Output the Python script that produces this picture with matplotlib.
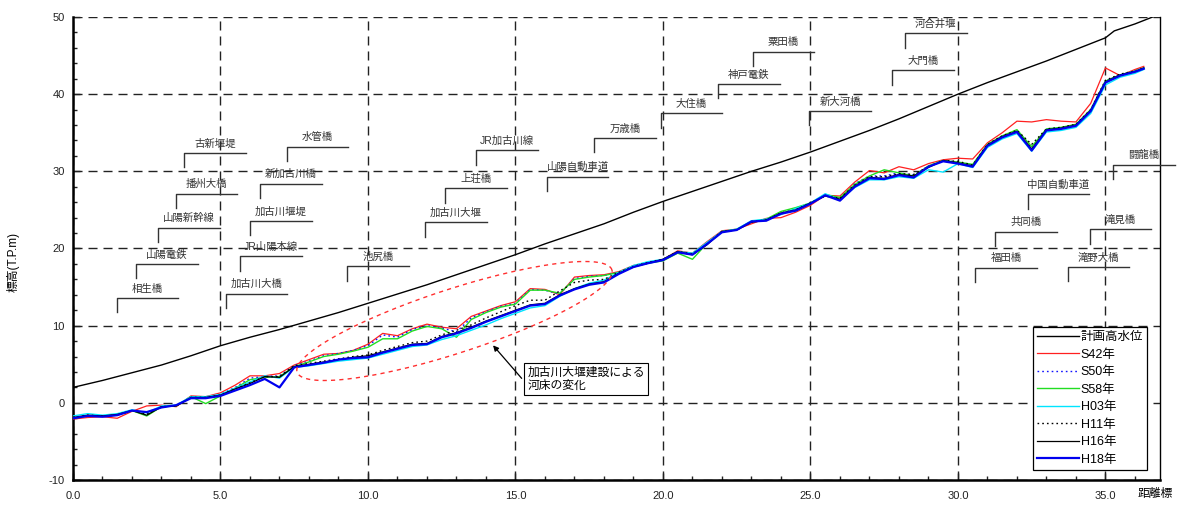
import numpy as np
import matplotlib
matplotlib.use('Agg')
import matplotlib.pyplot as plt
from matplotlib.lines import Line2D

plt.rcParams['font.family'] = ['Liberation Sans', 'Noto Sans CJK JP', 'DejaVu Sans']

# ---------------- data ----------------
KM = [0.0, 0.5, 1.0, 1.5, 2.0, 2.5, 3.0, 3.5, 4.0, 4.5,
      5.0, 5.5, 6.0, 6.5, 7.0, 7.5, 8.0, 8.5, 9.0, 9.5,
      10.0, 10.5, 11.0, 11.5, 12.0, 12.5, 13.0, 13.5, 14.0, 14.5,
      15.0, 15.5, 16.0, 16.5, 17.0, 17.5, 18.0, 18.5, 19.0, 19.5,
      20.0, 20.5, 21.0, 21.5, 22.0, 22.5, 23.0, 23.5, 24.0, 24.5,
      25.0, 25.5, 26.0, 26.5, 27.0, 27.5, 28.0, 28.5, 29.0, 29.5,
      30.0, 30.5, 31.0, 31.5, 32.0, 32.5, 33.0, 33.5, 34.0, 34.5,
      35.0, 35.5, 36.0, 36.3]

S42 = [-2.1, -1.9, -1.8, -2.0, -1.1, -0.4, -0.3, -0.5, 0.9, 0.8,
       1.3, 2.3, 3.5, 3.5, 3.8, 4.9, 5.6, 6.3, 6.4, 6.8,
       7.6, 9.0, 8.7, 9.6, 10.2, 9.8, 9.6, 11.2, 11.9, 12.6,
       13.1, 14.8, 14.7, 14.0, 16.3, 16.5, 16.6, 17.0, 17.8, 18.2,
       18.6, 19.7, 19.4, 20.9, 22.3, 22.5, 23.2, 23.9, 24.0, 24.7,
       25.6, 26.9, 26.8, 28.6, 30.1, 29.8, 30.6, 30.2, 31.0, 31.5,
       31.7, 31.6, 33.7, 35.0, 36.5, 36.4, 36.7, 36.5, 36.4, 38.8,
       43.4, 42.4, 43.2, 43.6]
S50 = [-2.0, -1.7, -1.7, -1.6, -1.0, -1.4, -0.5, -0.4, 0.8, 0.6,
       1.1, 2.0, 3.2, 3.4, 3.5, 4.8, 5.4, 6.1, 6.4, 6.8,
       7.4, 8.8, 8.5, 9.5, 10.0, 9.7, 9.2, 11.0, 11.8, 12.5,
       12.9, 14.7, 14.6, 14.1, 16.1, 16.4, 16.5, 16.9, 17.7, 18.1,
       18.5, 19.5, 19.2, 20.7, 22.2, 22.4, 23.4, 23.7, 24.6, 25.1,
       25.9, 26.9, 26.5, 28.4, 29.4, 29.4, 29.8, 29.5, 30.7, 31.4,
       31.2, 30.8, 33.4, 34.5, 35.3, 33.0, 35.4, 35.6, 36.0, 37.9,
       41.7, 42.5, 43.0, 43.4]
S58 = [-2.0, -1.7, -1.7, -1.6, -1.0, -1.7, -0.5, -0.4, 0.8, -0.1,
       0.9, 1.9, 3.0, 3.3, 3.4, 4.7, 5.3, 6.0, 6.3, 6.7,
       7.2, 8.3, 8.3, 9.3, 9.9, 9.6, 8.5, 10.8, 11.7, 12.4,
       12.8, 14.6, 14.6, 14.2, 16.0, 16.3, 16.5, 16.9, 17.7, 18.1,
       18.4, 19.4, 18.6, 20.7, 22.2, 22.5, 23.5, 23.8, 24.8, 25.3,
       25.9, 27.0, 26.6, 28.3, 29.4, 30.2, 29.8, 29.4, 30.7, 31.4,
       31.2, 30.9, 33.5, 34.6, 35.4, 33.2, 35.5, 35.7, 36.1, 38.0,
       41.7, 42.5, 43.0, 43.4]
H03 = [-1.7, -1.4, -1.6, -1.4, -0.9, -1.3, -0.4, -0.3, 0.8, 0.8,
       1.1, 1.9, 2.7, 3.5, 3.2, 4.6, 4.8, 5.1, 5.4, 5.6,
       5.8, 6.3, 6.8, 7.3, 7.5, 8.2, 8.7, 9.4, 10.1, 10.9,
       11.6, 12.3, 12.6, 13.8, 14.8, 15.5, 15.9, 16.9, 17.8, 18.3,
       18.6, 19.6, 19.4, 20.8, 22.2, 22.5, 23.6, 23.8, 24.4, 25.2,
       25.9, 27.1, 26.3, 27.9, 28.9, 28.9, 29.3, 29.1, 30.2, 29.9,
       31.0, 30.5, 33.1, 34.2, 34.9, 32.6, 35.1, 35.3, 35.7, 37.5,
       41.2, 42.2, 42.7, 43.2]
H11 = [-1.9, -1.6, -1.7, -1.6, -1.0, -1.5, -0.5, -0.4, 0.7, 0.7,
       1.0, 1.8, 2.6, 3.4, 3.4, 4.8, 5.1, 5.4, 5.7, 6.0,
       6.2, 6.8, 7.3, 7.8, 8.0, 8.8, 9.4, 10.1, 11.0, 11.8,
       12.6, 13.3, 13.3, 14.5, 15.6, 15.9, 16.0, 16.9, 17.7, 18.2,
       18.6, 19.6, 19.3, 20.6, 22.2, 22.4, 23.5, 23.7, 24.6, 25.0,
       25.9, 26.8, 26.5, 28.2, 29.3, 29.3, 29.7, 29.6, 30.6, 31.4,
       31.3, 30.8, 33.5, 34.6, 35.3, 33.5, 35.5, 35.7, 36.1, 38.0,
       41.8, 42.6, 43.0, 43.4]
H16 = [-1.9, -1.6, -1.7, -1.5, -1.0, -1.6, -0.5, -0.4, 0.7, 0.7,
       1.0, 1.8, 2.5, 3.4, 3.3, 4.7, 5.0, 5.3, 5.6, 5.9,
       6.1, 6.6, 7.1, 7.6, 7.7, 8.6, 9.1, 9.8, 10.6, 11.3,
       12.0, 12.7, 12.9, 14.0, 14.8, 15.4, 15.7, 16.8, 17.6, 18.1,
       18.6, 19.6, 19.2, 20.5, 22.2, 22.4, 23.4, 23.7, 24.6, 25.0,
       25.9, 26.8, 26.4, 28.1, 29.2, 29.1, 29.6, 29.4, 30.5, 31.4,
       31.1, 30.7, 33.4, 34.5, 35.2, 32.9, 35.4, 35.6, 36.0, 37.9,
       41.6, 42.5, 42.9, 43.4]
H18 = [-2.0, -1.7, -1.8, -1.6, -1.0, -1.2, -0.6, -0.3, 0.6, 0.6,
       0.9, 1.6, 2.3, 3.1, 2.0, 4.6, 4.9, 5.2, 5.6, 5.8,
       5.9, 6.5, 7.0, 7.5, 7.6, 8.5, 9.0, 9.7, 10.5, 11.2,
       11.9, 12.6, 12.8, 13.9, 14.7, 15.3, 15.6, 16.7, 17.6, 18.1,
       18.5, 19.5, 19.2, 20.6, 22.1, 22.4, 23.5, 23.6, 24.5, 24.9,
       25.8, 26.9, 26.2, 28.0, 29.1, 29.0, 29.5, 29.2, 30.6, 31.3,
       31.0, 30.6, 33.3, 34.4, 35.1, 32.7, 35.3, 35.5, 35.9, 37.8,
       41.5, 42.4, 42.9, 43.3]

PLAN_KM = [0, 1, 2, 3, 4, 5, 6, 7, 8, 9, 10, 11, 12, 13, 14, 15, 16, 17, 18, 19,
           20, 21, 22, 23, 24, 25, 26, 27, 28, 29, 30, 31, 32, 33, 34, 35, 35.3, 36, 37]
PLAN_H = [2.0, 2.9, 3.9, 4.9, 6.1, 7.4, 8.5, 9.5, 10.6, 11.7, 12.9, 14.1, 15.3, 16.6,
          17.9, 19.2, 20.6, 21.9, 23.2, 24.7, 26.1, 27.4, 28.7, 30.0, 31.2, 32.5, 33.9,
          35.3, 36.8, 38.4, 40.0, 41.5, 42.9, 44.3, 45.8, 47.3, 48.2, 49.1, 50.6]

SERIES_NAMES = ['S42年', 'S50年', 'S58年', 'H03年', 'H11年', 'H16年', 'H18年']
SERIES_VALUES = [S42, S50, S58, H03, H11, H16, H18]
PLAN_NAME = '計画高水位'

X_TICKS = [0, 5, 10, 15, 20, 25, 30, 35]
X_TICK_LABELS = ['0.0', '5.0', '10.0', '15.0', '20.0', '25.0', '30.0', '35.0']
Y_TICKS = [-10, 0, 10, 20, 30, 40, 50]

# bridge / structure labels: (name, km of structure, elevation of bracket line)
BRIDGES = [
    ('相生橋', 1.48, 13.6), ('山陽電鉄', 2.13, 18.0), ('山陽新幹線', 2.89, 22.7),
    ('播州大橋', 3.48, 27.1), ('古新堰堤', 3.76, 32.4), ('加古川大橋', 5.18, 14.15),
    ('JR山陽本線', 5.66, 19.0), ('加古川堰堤', 6.0, 23.55), ('新加古川橋', 6.34, 28.4),
    ('水管橋', 7.24, 33.2), ('池尻橋', 9.30, 17.7), ('加古川大堰', 11.93, 23.4),
    ('上荘橋', 12.62, 27.8), ('JR加古川線', 13.66, 32.7), ('山陽自動車道', 16.06, 29.3),
    ('万歳橋', 17.66, 34.3), ('大住橋', 19.92, 37.5), ('神戸電鉄', 21.87, 41.35),
    ('粟田橋', 23.04, 45.5), ('新大河橋', 24.96, 37.8), ('大門橋', 27.77, 43.1),
    ('河合井堰', 28.20, 47.9), ('福田橋', 30.58, 17.5), ('共同橋', 31.25, 22.2),
    ('中国自動車道', 32.36, 27.0), ('滝野大橋', 33.72, 17.6), ('滝見橋', 34.47, 22.5),
    ('闘龍橋', 35.26, 30.85),
]

# ---------------- figure ----------------
W, H = 1178, 505
fig = plt.figure(figsize=(W / 100, H / 100), dpi=100)
L, R, T, B = 73, 1160, 17, 480
ax = fig.add_axes([L / W, 1 - B / H, (R - L) / W, (B - T) / H])
XMAX = 36.85
ax.set_xlim(0, XMAX)
ax.set_ylim(-10, 50)

sx = (R - L) / XMAX      # px per km
sy = (B - T) / 60.0      # px per m

# ticks & grid
ax.set_xticks(X_TICKS)
ax.set_xticklabels(X_TICK_LABELS, fontsize=8)
ax.set_yticks(Y_TICKS)
ax.set_yticklabels([str(v) for v in Y_TICKS], fontsize=8)
ax.set_xticks(np.arange(0, 37, 1), minor=True)
ax.set_yticks(np.arange(-10, 51, 2), minor=True)
ax.tick_params(which='major', direction='in', length=5, width=1, pad=6, colors='#222222')
ax.tick_params(axis='x', which='major', pad=8)
ax.tick_params(which='minor', direction='in', length=3, width=1, colors='#222222')
ax.grid(True, which='major', color='#222222', linestyle=(0, (6.5, 4.3)), linewidth=1.0)
ax.set_axisbelow(True)

for s in ['left', 'bottom']:
    ax.spines[s].set_linewidth(1.8)
ax.spines['right'].set_linewidth(1.0)
ax.spines['top'].set_visible(False)

# plan water level
ax.plot(PLAN_KM, PLAN_H, color='black', lw=1.0, zorder=3)

styles = [
    dict(color='#ff2020', lw=0.9, ls='-'),
    dict(color='#1010ff', lw=1.0, ls=(0, (1.2, 2.2))),
    dict(color='#22dd22', lw=1.0, ls='-'),
    dict(color='#00e5ff', lw=1.0, ls='-'),
    dict(color='black', lw=1.0, ls=(0, (1.2, 2.2))),
    dict(color='black', lw=0.9, ls='-'),
    dict(color='#0000ee', lw=1.6, ls='-'),
]
for vals, st in zip(SERIES_VALUES, styles):
    ax.plot(KM, vals, zorder=4, **st)

# bridge brackets
HLEN = 61.7 / sx
VDROP = 14.3 / sy
for name, km, yl in BRIDGES:
    ax.plot([km, km, km + HLEN], [yl - VDROP, yl, yl], color='#333333', lw=1.0,
            clip_on=False, zorder=5)
    ax.annotate(name, (km + HLEN / 2, yl), xytext=(0, 6.8), textcoords='offset points',
                ha='center', va='center', fontsize=7.5, color='#333333',
                annotation_clip=False)

# ellipse (red dashed) around the changed river bed
cpx, cpy = 454.5, 321.0
a, b, th = 165.5, 32.0, np.deg2rad(18)
t = np.linspace(0, 2 * np.pi, 200)
ex = (cpx - L) / sx + (a * np.cos(t) * np.cos(th) - b * np.sin(t) * np.sin(th)) / sx
ey = (B - cpy) / sy - 10 + (a * np.cos(t) * np.sin(th) + b * np.sin(t) * np.cos(th)) / sy
ax.plot(ex, ey, color='#ff3030', lw=1.0, ls=(0, (3, 3)), zorder=6)

# annotation box + arrow
ax.text(15.40, 3.05, '加古川大堰建設による\n河床の変化', fontsize=8.5, ha='left', va='center',
        linespacing=1.2, zorder=7,
        bbox=dict(boxstyle='square,pad=0.25', fc='white', ec='black', lw=0.8))
ax.annotate('', xy=(14.24, 7.45), xytext=(15.21, 3.17),
            arrowprops=dict(arrowstyle='-|>', color='black', lw=0.9,
                            mutation_scale=8, shrinkA=0, shrinkB=0), zorder=7)

# legend
handles = [Line2D([], [], color='black', lw=1.0)]
for st in styles:
    handles.append(Line2D([], [], **st))
labels = [PLAN_NAME] + SERIES_NAMES
leg = ax.legend(handles, labels, loc='lower left',
                bbox_to_anchor=((1033 - L) / (R - L), (B - 470) / (B - T)),
                fontsize=9, frameon=True, fancybox=False, framealpha=1,
                edgecolor='black', handlelength=3.3, handletextpad=0.15,
                labelspacing=0.44, borderpad=0.35, borderaxespad=0)
leg.get_frame().set_linewidth(0.9)
leg.set_zorder(8)

# axis labels
ax.set_ylabel('標高(T.P.m)', fontsize=8.5)
ax.yaxis.set_label_coords(-0.049, 0.47)
ax.text(0.996, -0.030, '距離標', transform=ax.transAxes, ha='center', va='center',
        fontsize=8.5, clip_on=False)

fig.savefig('out.png', dpi=100)
